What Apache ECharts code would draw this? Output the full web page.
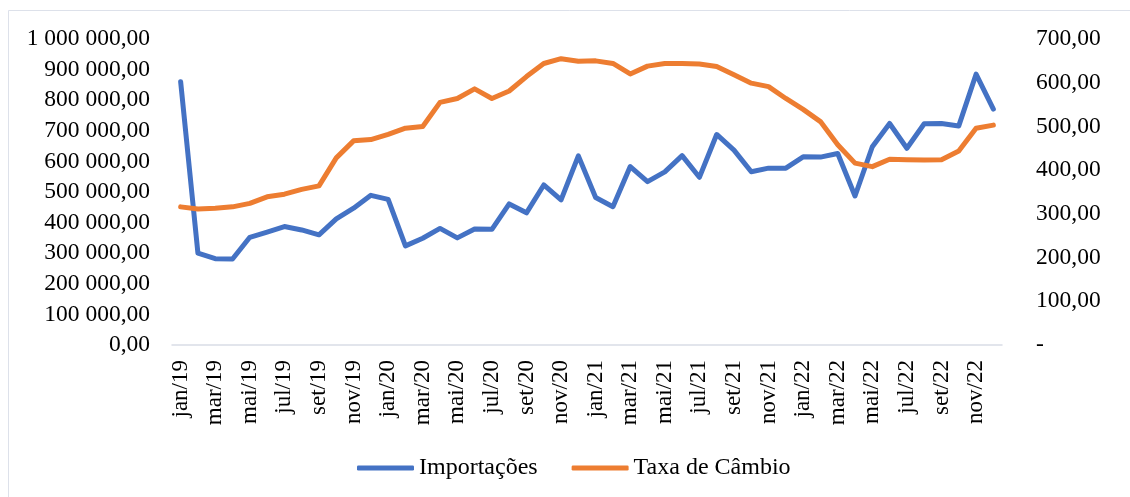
<!DOCTYPE html>
<html>
<head>
<meta charset="utf-8">
<script src="https://cdn.jsdelivr.net/npm/echarts@6/dist/echarts.min.js"></script>
<style>
html,body{margin:0;padding:0;background:#fff;}
#c{width:1130px;height:497px;}
</style>
</head>
<body>
<div id="c"></div>
<script>
var categories = [
 'jan/19','fev/19','mar/19','abr/19','mai/19','jun/19','jul/19','ago/19','set/19','out/19','nov/19','dez/19',
 'jan/20','fev/20','mar/20','abr/20','mai/20','jun/20','jul/20','ago/20','set/20','out/20','nov/20','dez/20',
 'jan/21','fev/21','mar/21','abr/21','mai/21','jun/21','jul/21','ago/21','set/21','out/21','nov/21','dez/21',
 'jan/22','fev/22','mar/22','abr/22','mai/22','jun/22','jul/22','ago/22','set/22','out/22','nov/22','dez/22'
];
var importacoes = [
 860000,300000,282000,281000,352000,369000,387000,376000,360000,412000,447000,489000,
 476000,324000,349000,381000,350000,379000,378000,461000,432000,523000,474000,618000,
 482000,452000,583000,534000,566000,619000,548000,688000,637000,566000,578000,578000,
 615000,614000,626000,487000,648000,724000,643000,723000,724000,716000,885000,771000
];
var taxaCambio = [
 316,311,313,316,324,339,345,356,364,428,467,470,
 482,496,500,555,564,586,564,581,614,644,655,649,
 650,644,620,638,644,644,643,637,618,599,591,564,
 539,511,458,416,408,425,424,423,424,444,496,503
];
var leftTicks = {min:0, max:1000000, interval:100000};
var rightTicks = {min:0, max:700, interval:100};

function fmtLeft(v){
  var s = Math.round(v).toString().replace(/\B(?=(\d{3})+(?!\d))/g,' ');
  return s + ',00';
}
function fmtRight(v){
  if (v === 0) return '-';
  return Math.round(v) + ',00';
}

var FONT = '"Times New Roman","Liberation Serif",serif';
var chart = echarts.init(document.getElementById('c'));
chart.setOption({
  backgroundColor:'#fff',
  animation:false,
  graphic:[
    {type:'line', shape:{x1:8.5,y1:10.5,x2:1130,y2:10.5}, style:{stroke:'#dde1ea',lineWidth:1}},
    {type:'line', shape:{x1:8.5,y1:10.5,x2:8.5,y2:497}, style:{stroke:'#dde1ea',lineWidth:1}}
  ],
  grid:{left:172,right:128,top:39,bottom:152,containLabel:false},
  legend:{
    left:352, top:451,
    itemWidth:57, itemHeight:5, itemGap:34,
    icon:'roundRect',
    textStyle:{fontFamily:FONT,fontSize:24,color:'#000'},
    data:['Importações','Taxa de Câmbio']
  },
  xAxis:{
    type:'category', data:categories, boundaryGap:true,
    axisLine:{lineStyle:{color:'#d9dde6',width:1.5}},
    axisTick:{interval:1,length:7,lineStyle:{color:'#d9dde6',width:1.5}},
    axisLabel:{interval:1,rotate:90,margin:15,fontFamily:FONT,fontSize:23,color:'#000'}
  },
  yAxis:[
    {type:'value', min:leftTicks.min, max:leftTicks.max, interval:leftTicks.interval,
     splitLine:{show:false}, axisLine:{show:false}, axisTick:{show:false},
     axisLabel:{margin:22,formatter:fmtLeft,fontFamily:FONT,fontSize:23.5,color:'#000'}},
    {type:'value', min:rightTicks.min, max:rightTicks.max, interval:rightTicks.interval,
     splitLine:{show:false}, axisLine:{show:false}, axisTick:{show:false},
     axisLabel:{margin:34,formatter:fmtRight,fontFamily:FONT,fontSize:23.5,color:'#000'}}
  ],
  series:[
    {name:'Importações', type:'line', yAxisIndex:0, data:importacoes, showSymbol:false, symbol:'none',
     lineStyle:{color:'#4472C4',width:5,cap:'round',join:'round'}, itemStyle:{color:'#4472C4'}},
    {name:'Taxa de Câmbio', type:'line', yAxisIndex:1, data:taxaCambio, showSymbol:false, symbol:'none',
     lineStyle:{color:'#ED7D31',width:5,cap:'round',join:'round'}, itemStyle:{color:'#ED7D31'}}
  ]
});
</script>
</body>
</html>
